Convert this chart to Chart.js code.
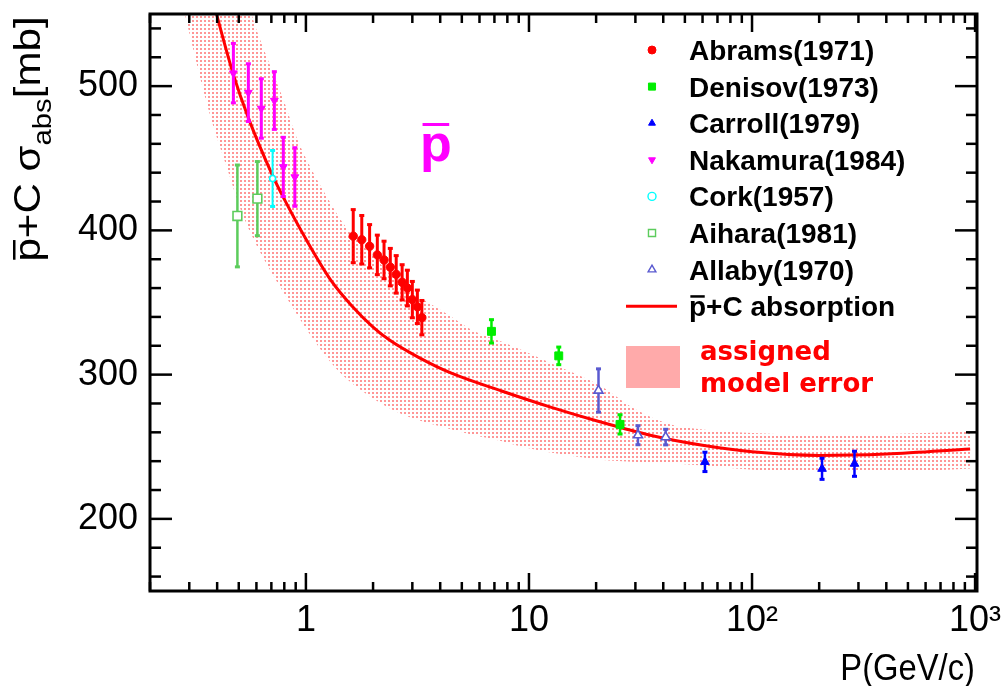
<!DOCTYPE html>
<html>
<head>
<meta charset="utf-8">
<script src="https://cdn.jsdelivr.net/npm/chart.js@4.4.1/dist/chart.umd.min.js"></script>
<style>
  html, body { margin: 0; padding: 0; background: #fff; }
</style>
</head>
<body>
<canvas id="chart" width="1008" height="686"></canvas>
<script>
// Measured points: momentum P (GeV/c), cross section (mb), error (mb)
const abramsP = [1.63, 1.78, 1.93, 2.09, 2.24, 2.39, 2.54, 2.70, 2.85, 3.00, 3.16, 3.31];
const abramsSigma = [396, 393.5, 389, 383, 379.5, 374.5, 369.5, 364, 360, 352, 347, 339.5];
const abramsErr = [18.4, 16.8, 15, 13.7, 13, 13, 13, 12.2, 12.4, 12.6, 11.6, 11.9];

const denisovP = [6.79, 13.6, 25.6];
const denisovSigma = [330, 313, 265.5];
const denisovErr = [8.1, 6.1, 6.7];

const carrollP = [61.5, 206, 288];
const carrollSigma = [239.5, 234.7, 238.2];
const carrollErr = [6.7, 7.3, 8.7];

const nakamuraP = [0.473, 0.552, 0.631, 0.722, 0.792, 0.892];
const nakamuraSigma = [509, 495.5, 484.5, 490, 444, 437];
const nakamuraErr = [20.6, 20, 20.6, 20, 20.5, 20.3];

const corkP = [0.709];
const corkSigma = [436];
const corkErr = [19.4];

const aiharaP = [0.493, 0.606];
const aiharaSigma = [410, 422];
const aiharaErr = [35.3, 25.7];

const allabyP = [20.5, 30.8, 41];
const allabySigma = [289, 258, 256.7];
const allabyErr = [15, 6.6, 5.4];

// model curve and its assigned error band
const modelP = [0.35, 0.398, 0.473, 0.552, 0.709, 0.804, 1.0, 1.3, 1.6, 2.0, 2.37, 3.2, 4.49, 7.6, 12.5, 20.6, 35, 60, 100, 200, 400, 950];
const modelSigma = [582, 549.5, 508, 478, 438, 421, 394, 365, 348, 333, 324, 312, 301, 288.5, 277.5, 267.5, 258, 251, 246.5, 244, 245, 248.5];

const bandP = [0.2, 0.25, 0.3, 0.37, 0.45, 0.5, 0.57, 0.7, 0.8, 0.9, 1.0, 1.3, 1.5, 2.0, 2.7, 3.8, 4.5, 5.7, 7.5, 9, 12.5, 21, 30, 42, 60, 85, 120, 200, 350, 600, 950];
const bandUpper = [820, 750, 700, 655, 610, 585, 550, 512, 489, 466, 450, 418, 403, 382, 362, 347, 340, 330, 323, 318, 308, 292, 276, 266, 262, 260, 259, 258, 258.5, 259.5, 260.5];
const bandLower = [650, 590, 537, 481, 440, 418, 397, 371, 356, 343, 332, 308, 298, 283.5, 272.5, 265, 262, 258, 254, 250.5, 246, 241, 239.5, 238.5, 237, 235, 233.5, 232.5, 232.5, 233.5, 235];

// axes
const xTickValues = [1, 10, 100, 1000];
const xTickLabels = ['1', '10', '10\u00B2', '10\u00B3'];
const yTickValues = [200, 300, 400, 500];

const FONT = "'Liberation Sans', Arial, Helvetica, sans-serif";

function pts(xs, ys) {
  return xs.map((x, i) => ({ x: x, y: ys[i] }));
}

// dotted fill like the ROOT pattern, 2x2 dots on a 4px grid
const dotCanvas = document.createElement('canvas');
dotCanvas.width = 4;
dotCanvas.height = 4;
const dctx = dotCanvas.getContext('2d');
dctx.fillStyle = 'rgb(255,150,150)';
dctx.fillRect(0, 0, 2, 2);
const ctx = document.getElementById('chart').getContext('2d');
const dotPattern = ctx.createPattern(dotCanvas, 'repeat');

const series = [
  { label: 'Abrams(1971)', p: abramsP, s: abramsSigma, e: abramsErr, color: '#ff0000', style: 'circle', r: 4.2, open: false, rot: 0, bar: 3, lr: 4 },
  { label: 'Denisov(1973)', p: denisovP, s: denisovSigma, e: denisovErr, color: '#00ee00', style: 'rect', r: 5.6, open: false, rot: 0, bar: 2.5, lr: 5 },
  { label: 'Carroll(1979)', p: carrollP, s: carrollSigma, e: carrollErr, color: '#0000ff', style: 'triangle', r: 5, open: false, rot: 0, bar: 2.5, lr: 4 },
  { label: 'Nakamura(1984)', p: nakamuraP, s: nakamuraSigma, e: nakamuraErr, color: '#ff00ff', style: 'triangle', r: 4.5, open: false, rot: 180, bar: 3, lr: 4 },
  { label: 'Cork(1957)', p: corkP, s: corkSigma, e: corkErr, color: '#00ffff', style: 'circle', r: 3, open: true, rot: 0, bar: 2, lr: 4 },
  { label: 'Aihara(1981)', p: aiharaP, s: aiharaSigma, e: aiharaErr, color: '#5ccc5c', style: 'rect', r: 6.2, open: true, rot: 0, bar: 2.5, lr: 5 },
  { label: 'Allaby(1970)', p: allabyP, s: allabySigma, e: allabyErr, color: '#5a5ad0', style: 'triangle', r: 5.2, open: true, rot: 0, bar: 2.5, lr: 4.5 }
];

const datasets = series.map(s => ({
  label: s.label,
  data: pts(s.p, s.s),
  errors: s.e,
  barWidth: s.bar,
  pointStyle: s.style,
  pointRadius: s.r,
  rotation: s.rot,
  backgroundColor: s.open ? '#ffffff' : s.color,
  borderColor: s.color,
  borderWidth: s.open ? 1.6 : 1,
  showLine: false
}));

datasets.push({
  label: 'model',
  data: pts(modelP, modelSigma),
  showLine: true,
  borderColor: '#ff0000',
  borderWidth: 3,
  pointRadius: 0,
  cubicInterpolationMode: 'monotone',
  fill: false
});
const upperIndex = datasets.length;
datasets.push({
  label: 'band upper',
  data: pts(bandP, bandUpper),
  showLine: true,
  borderWidth: 0,
  borderColor: 'rgba(0,0,0,0)',
  pointRadius: 0,
  cubicInterpolationMode: 'monotone',
  fill: false
});
const lowerIndex = datasets.length;
datasets.push({
  label: 'band lower',
  data: pts(bandP, bandLower),
  showLine: true,
  borderWidth: 0,
  borderColor: 'rgba(0,0,0,0)',
  pointRadius: 0,
  cubicInterpolationMode: 'monotone',
  fill: false
});

function line(c, x1, y1, x2, y2) {
  c.beginPath();
  c.moveTo(x1, y1);
  c.lineTo(x2, y2);
  c.stroke();
}

// draws "p" with a bar over it, returns its width
function pbar(c, x, y, barY, thick) {
  const w = c.measureText('p').width;
  c.fillText('p', x, y);
  c.fillRect(x + w * 0.08, barY, w * 0.84, thick);
  return w;
}

const rootStyle = {
  id: 'rootStyle',
  beforeDatasetsDraw(chart) {
    // dotted band between the upper and lower model lines
    const a = chart.chartArea;
    const up = chart.getDatasetMeta(upperIndex);
    const lo = chart.getDatasetMeta(lowerIndex);
    up.dataset.updateControlPoints(a, 'x');
    lo.dataset.updateControlPoints(a, 'x');
    const u = up.data, l = lo.data;
    const c = chart.ctx;
    c.save();
    c.beginPath();
    c.rect(a.left, a.top, a.right - a.left, a.bottom - a.top);
    c.clip();
    c.beginPath();
    c.moveTo(u[0].x, u[0].y);
    for (let i = 1; i < u.length; i++) {
      c.bezierCurveTo(u[i - 1].cp2x, u[i - 1].cp2y, u[i].cp1x, u[i].cp1y, u[i].x, u[i].y);
    }
    c.lineTo(l[l.length - 1].x, l[l.length - 1].y);
    for (let i = l.length - 2; i >= 0; i--) {
      c.bezierCurveTo(l[i + 1].cp1x, l[i + 1].cp1y, l[i].cp2x, l[i].cp2y, l[i].x, l[i].y);
    }
    c.closePath();
    c.fillStyle = dotPattern;
    c.fill();
    c.restore();
  },
  beforeDatasetDraw(chart, args) {
    const ds = chart.data.datasets[args.index];
    if (!ds.errors) return;
    const c = chart.ctx, xs = chart.scales.x, ys = chart.scales.y;
    c.save();
    c.strokeStyle = ds.borderColor;
    c.fillStyle = ds.borderColor;
    c.lineWidth = ds.barWidth;
    ds.data.forEach((pt, i) => {
      const px = xs.getPixelForValue(pt.x);
      const top = ys.getPixelForValue(pt.y + ds.errors[i]);
      const bot = ys.getPixelForValue(pt.y - ds.errors[i]);
      line(c, px, top, px, bot);
      c.fillRect(px - 2.5, top - 1.5, 5, 3);
      c.fillRect(px - 2.5, bot - 1.5, 5, 3);
    });
    c.restore();
  },
  afterDraw(chart) {
    const c = chart.ctx, a = chart.chartArea;
    const xs = chart.scales.x, ys = chart.scales.y;
    c.save();

    // frame
    c.strokeStyle = '#000';
    c.lineWidth = 3;
    c.strokeRect(a.left, a.top, a.right - a.left, a.bottom - a.top);

    // inward ticks, y
    c.lineWidth = 2.5;
    for (let v = 160; v <= 540; v += 20) {
      const py = ys.getPixelForValue(v);
      const len = yTickValues.includes(v) ? 22 : 11;
      line(c, a.left, py, a.left + len, py);
      line(c, a.right, py, a.right - len, py);
    }
    // inward ticks, x (log)
    for (let d = 0.1; d <= 1000; d *= 10) {
      for (let m = 1; m <= 9; m++) {
        const v = m * d;
        if (v < 0.2 || v > 1020) continue;
        const px = xs.getPixelForValue(v);
        const len = m === 1 ? 18 : 9;
        line(c, px, a.bottom, px, a.bottom - len);
        line(c, px, a.top, px, a.top + len);
      }
    }

    // y title
    c.fillStyle = '#000';
    c.textBaseline = 'alphabetic';
    c.save();
    c.translate(40, 139);
    c.rotate(-Math.PI / 2);
    c.scale(1.17, 1);
    c.font = '36px ' + FONT;
    const w1 = c.measureText('p').width;
    const w2 = c.measureText('+C \u03C3').width;
    c.font = '25px ' + FONT;
    const w3 = c.measureText('abs').width;
    c.font = '36px ' + FONT;
    const w4 = c.measureText('[mb]').width;
    let tx = -(w1 + w2 + w3 + w4) / 2;
    pbar(c, tx, 0, -27, 2.5);
    tx += w1;
    c.fillText('+C \u03C3', tx, 0);
    tx += w2;
    c.font = '25px ' + FONT;
    c.fillText('abs', tx, 11);
    tx += w3;
    c.font = '36px ' + FONT;
    c.fillText('[mb]', tx, 0);
    c.restore();

    // x title
    c.save();
    c.translate(975, 680);
    c.scale(0.91, 1);
    c.font = '36px ' + FONT;
    c.textAlign = 'right';
    c.fillText('P(GeV/c)', 0, 0);
    c.restore();

    // big pbar label
    c.fillStyle = '#ff00ff';
    c.font = 'bold 52px ' + FONT;
    pbar(c, 420, 161, 123, 3);

    // legend
    const lx = 652, tx0 = 689, ly0 = 50, step = 36.6;
    c.font = 'bold 28px ' + FONT;
    series.forEach((s, i) => {
      const y = ly0 + i * step;
      c.fillStyle = s.open ? '#ffffff' : s.color;
      c.strokeStyle = s.color;
      c.lineWidth = s.open ? 1.4 : 1;
      Chart.helpers.drawPoint(c, { pointStyle: s.style, radius: s.lr, rotation: s.rot, borderWidth: c.lineWidth }, lx, y);
      c.fillStyle = '#000';
      c.fillText(s.label, tx0, y + 10);
    });
    const yl = ly0 + series.length * step;
    c.strokeStyle = '#ff0000';
    c.lineWidth = 3;
    line(c, 626, yl, 677, yl);
    c.fillStyle = '#000';
    const pw = pbar(c, tx0, yl + 10, yl - 11, 2.5);
    c.fillText('+C absorption', tx0 + pw, yl + 10);

    c.fillStyle = '#ffaaaa';
    c.fillRect(626, 346, 54, 42);
    c.fillStyle = '#ff0000';
    c.font = "bold 26px 'DejaVu Sans', sans-serif";
    c.fillText('assigned', 700, 360);
    c.fillText('model error', 700, 392);

    c.restore();
  }
};

new Chart(ctx, {
  type: 'scatter',
  data: { datasets: datasets },
  options: {
    responsive: false,
    animation: false,
    events: [],
    layout: { padding: { top: 14, right: 31, left: 0, bottom: 0 } },
    plugins: { legend: { display: false }, tooltip: { enabled: false } },
    scales: {
      x: {
        type: 'logarithmic',
        position: 'bottom',
        min: 0.2,
        max: 1020,
        grid: { display: false, drawTicks: false },
        border: { display: false },
        afterBuildTicks: s => { s.ticks = xTickValues.map(v => ({ value: v })); },
        afterFit: s => { s.height = 95; s.paddingLeft = 0; s.paddingRight = 0; },
        ticks: {
          autoSkip: false,
          maxRotation: 0,
          padding: 8,
          color: '#000',
          font: { family: FONT, size: 36 },
          callback: v => xTickLabels[xTickValues.indexOf(v)] || ''
        }
      },
      y: {
        type: 'linear',
        min: 150,
        max: 550,
        grid: { display: false, drawTicks: false },
        border: { display: false },
        afterBuildTicks: s => { s.ticks = yTickValues.map(v => ({ value: v })); },
        afterFit: s => { s.width = 150; s.paddingTop = 0; s.paddingBottom = 0; },
        ticks: {
          padding: 12,
          color: '#000',
          font: { family: FONT, size: 36 }
        }
      }
    }
  },
  plugins: [rootStyle]
});
</script>
</body>
</html>
